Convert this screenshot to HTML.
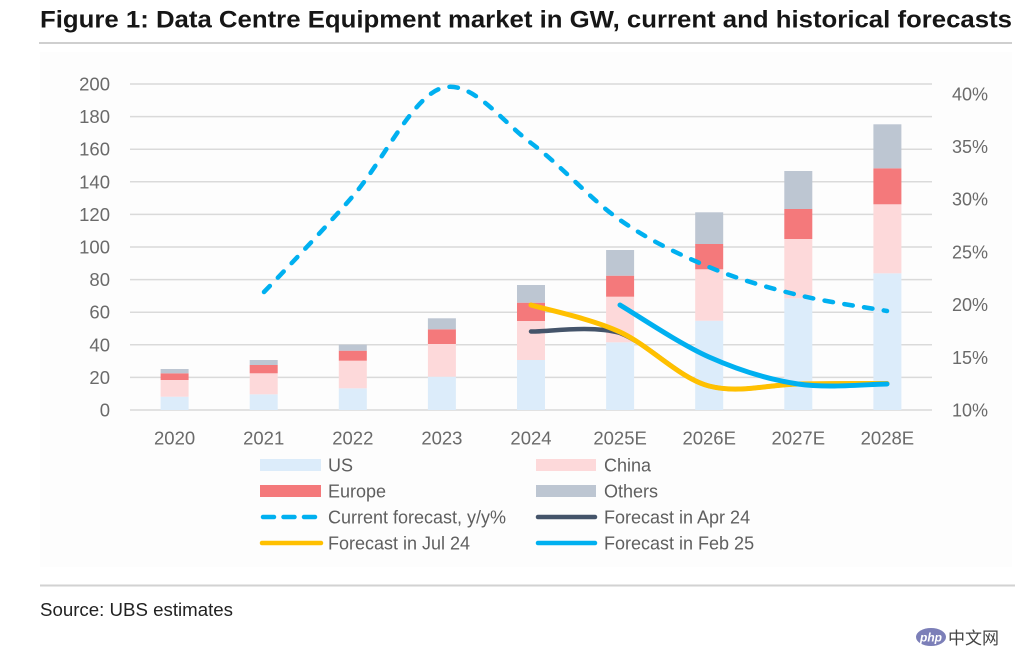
<!DOCTYPE html>
<html>
<head>
<meta charset="utf-8">
<style>
  html, body { margin:0; padding:0; background:#fff; }
  body { width:1024px; height:648px; overflow:hidden; }
  svg text { font-family: "Liberation Sans", "Noto Sans CJK SC", sans-serif; }
</style>
</head>
<body>
<svg width="1024" height="648" viewBox="0 0 1024 648" xmlns="http://www.w3.org/2000/svg">
  <rect x="0" y="0" width="1024" height="648" fill="#ffffff"/>
  <!-- chart area faint bg -->
  <rect x="40" y="52" width="972" height="515" fill="#fdfdfd"/>

  <!-- title -->
  <text x="40" y="27.5" font-size="24" font-weight="bold" fill="#161616" textLength="972" lengthAdjust="spacingAndGlyphs">Figure 1: Data Centre Equipment market in GW, current and historical forecasts</text>
  <line x1="39" y1="43" x2="1012" y2="43" stroke="#cfcfcf" stroke-width="2"/>

  <!-- gridlines -->
  <g stroke="#dadada" stroke-width="1.5">
    <line x1="130" y1="84" x2="932" y2="84"/>
    <line x1="130" y1="116.6" x2="932" y2="116.6"/>
    <line x1="130" y1="149.2" x2="932" y2="149.2"/>
    <line x1="130" y1="181.8" x2="932" y2="181.8"/>
    <line x1="130" y1="214.4" x2="932" y2="214.4"/>
    <line x1="130" y1="247" x2="932" y2="247"/>
    <line x1="130" y1="279.6" x2="932" y2="279.6"/>
    <line x1="130" y1="312.2" x2="932" y2="312.2"/>
    <line x1="130" y1="344.8" x2="932" y2="344.8"/>
    <line x1="130" y1="377.4" x2="932" y2="377.4"/>
    <line x1="130" y1="410" x2="932" y2="410"/>
  </g>

  <!-- left axis labels -->
  <g font-size="18.5" fill="#6a6a6a" text-anchor="end">
    <text x="110" y="90.5">200</text>
    <text x="110" y="123.1">180</text>
    <text x="110" y="155.7">160</text>
    <text x="110" y="188.3">140</text>
    <text x="110" y="220.9">120</text>
    <text x="110" y="253.5">100</text>
    <text x="110" y="286.1">80</text>
    <text x="110" y="318.7">60</text>
    <text x="110" y="351.3">40</text>
    <text x="110" y="383.9">20</text>
    <text x="110" y="416.5">0</text>
  </g>

  <!-- right axis labels -->
  <g font-size="18" fill="#6a6a6a">
    <text x="952" y="100.3">40%</text>
    <text x="952" y="153">35%</text>
    <text x="952" y="205.7">30%</text>
    <text x="952" y="258.4">25%</text>
    <text x="952" y="311.1">20%</text>
    <text x="952" y="363.8">15%</text>
    <text x="952" y="416.5">10%</text>
  </g>

  <!-- category labels -->
  <g font-size="18.5" fill="#6a6a6a" text-anchor="middle">
    <text x="174.6" y="444.5">2020</text>
    <text x="263.7" y="444.5">2021</text>
    <text x="352.8" y="444.5">2022</text>
    <text x="441.9" y="444.5">2023</text>
    <text x="531" y="444.5">2024</text>
    <text x="620.1" y="444.5">2025E</text>
    <text x="709.2" y="444.5">2026E</text>
    <text x="798.3" y="444.5">2027E</text>
    <text x="887.4" y="444.5">2028E</text>
  </g>

  <!-- bars -->
  <g>
    <rect x="160.6" y="396.7" width="28" height="13.3" fill="#dcecfa"/>
    <rect x="160.6" y="380" width="28" height="16.7" fill="#fdd9da"/>
    <rect x="160.6" y="373.3" width="28" height="6.7" fill="#f4797b"/>
    <rect x="160.6" y="369" width="28" height="4.3" fill="#bdc6d2"/>

    <rect x="249.7" y="394.3" width="28" height="15.7" fill="#dcecfa"/>
    <rect x="249.7" y="373.3" width="28" height="21" fill="#fdd9da"/>
    <rect x="249.7" y="365" width="28" height="8.3" fill="#f4797b"/>
    <rect x="249.7" y="360" width="28" height="5" fill="#bdc6d2"/>

    <rect x="338.8" y="388.3" width="28" height="21.7" fill="#dcecfa"/>
    <rect x="338.8" y="360.7" width="28" height="27.6" fill="#fdd9da"/>
    <rect x="338.8" y="350.7" width="28" height="10" fill="#f4797b"/>
    <rect x="338.8" y="344.7" width="28" height="6" fill="#bdc6d2"/>

    <rect x="427.9" y="376.7" width="28" height="33.3" fill="#dcecfa"/>
    <rect x="427.9" y="344" width="28" height="32.7" fill="#fdd9da"/>
    <rect x="427.9" y="329.3" width="28" height="14.7" fill="#f4797b"/>
    <rect x="427.9" y="318.3" width="28" height="11" fill="#bdc6d2"/>

    <rect x="517" y="360" width="28" height="50" fill="#dcecfa"/>
    <rect x="517" y="321" width="28" height="39" fill="#fdd9da"/>
    <rect x="517" y="302.7" width="28" height="18.3" fill="#f4797b"/>
    <rect x="517" y="285" width="28" height="17.7" fill="#bdc6d2"/>

    <rect x="606.1" y="342.3" width="28" height="67.7" fill="#dcecfa"/>
    <rect x="606.1" y="296.7" width="28" height="45.6" fill="#fdd9da"/>
    <rect x="606.1" y="275.7" width="28" height="21" fill="#f4797b"/>
    <rect x="606.1" y="250" width="28" height="25.7" fill="#bdc6d2"/>

    <rect x="695.2" y="320.7" width="28" height="89.3" fill="#dcecfa"/>
    <rect x="695.2" y="269.3" width="28" height="51.4" fill="#fdd9da"/>
    <rect x="695.2" y="244" width="28" height="25.3" fill="#f4797b"/>
    <rect x="695.2" y="212.3" width="28" height="31.7" fill="#bdc6d2"/>

    <rect x="784.3" y="298.3" width="28" height="111.7" fill="#dcecfa"/>
    <rect x="784.3" y="239" width="28" height="59.3" fill="#fdd9da"/>
    <rect x="784.3" y="209" width="28" height="30" fill="#f4797b"/>
    <rect x="784.3" y="171" width="28" height="38" fill="#bdc6d2"/>

    <rect x="873.4" y="273.3" width="28" height="136.7" fill="#dcecfa"/>
    <rect x="873.4" y="204.3" width="28" height="69" fill="#fdd9da"/>
    <rect x="873.4" y="168.3" width="28" height="36" fill="#f4797b"/>
    <rect x="873.4" y="124.3" width="28" height="44" fill="#bdc6d2"/>
  </g>

  <!-- Current forecast dashed -->
  <path d="M264,292 C278.8,276.8 323.3,230.2 353,196 C382.7,161.8 412.3,96.8 442,88 C471.7,79.2 501.3,121 531,143 C560.7,165 590.3,199.3 620,220 C649.7,240.7 679.3,254.5 709,267 C738.7,279.5 768.3,287.7 798,295 C827.7,302.3 872.2,308.3 887,311"
        fill="none" stroke="#00b0f0" stroke-width="4.5" stroke-linecap="round" stroke-dasharray="8.5 11.5"/>

  <!-- Forecast Apr 24 -->
  <path d="M531,331.5 C545.8,332.1 590.3,324.7 620,333 C649.7,344.7 679.3,378.3 709,386 C738.7,393.7 768.3,384.6 798,384 C827.7,383.4 872.2,383.6 887,383.5"
        fill="none" stroke="#44546a" stroke-width="4.5" stroke-linecap="round"/>

  <!-- Forecast Jul 24 -->
  <path d="M531,305 C545.8,309.5 590.3,318.3 620,332 C649.7,345.7 679.3,378.3 709,386 C738.7,393.7 768.3,384.6 798,384 C827.7,383.4 872.2,383.6 887,383.5"
        fill="none" stroke="#ffc000" stroke-width="5" stroke-linecap="round"/>

  <!-- Forecast Feb 25 -->
  <path d="M620,305 C634.8,313.7 679.3,343.8 709,357 C738.7,370.2 768.3,379.5 798,384 C827.7,388.5 872.2,384 887,384"
        fill="none" stroke="#00b0f0" stroke-width="5" stroke-linecap="round"/>

  <!-- legend -->
  <g font-size="18" fill="#5f5f5f">
    <rect x="260" y="459" width="61" height="12" fill="#dcecfa"/>
    <text x="328" y="471.5">US</text>
    <rect x="536" y="459" width="60" height="12" fill="#fdd9da"/>
    <text x="604" y="471.5">China</text>

    <rect x="260" y="485" width="61" height="12" fill="#f4797b"/>
    <text x="328" y="497.5">Europe</text>
    <rect x="536" y="485" width="60" height="12" fill="#bdc6d2"/>
    <text x="604" y="497.5">Others</text>

    <line x1="263" y1="517" x2="318" y2="517" stroke="#00b0f0" stroke-width="4.5" stroke-linecap="round" stroke-dasharray="11 9.5"/>
    <text x="328" y="523.5">Current forecast, y/y%</text>
    <line x1="538" y1="517" x2="595" y2="517" stroke="#44546a" stroke-width="4.5" stroke-linecap="round"/>
    <text x="604" y="523.5">Forecast in Apr 24</text>

    <line x1="262" y1="543" x2="321" y2="543" stroke="#ffc000" stroke-width="4.5" stroke-linecap="round"/>
    <text x="328" y="549.5">Forecast in Jul 24</text>
    <line x1="538" y1="543" x2="595" y2="543" stroke="#00b0f0" stroke-width="4.5" stroke-linecap="round"/>
    <text x="604" y="549.5">Forecast in Feb 25</text>
  </g>

  <!-- bottom rule and source -->
  <line x1="40" y1="585.5" x2="1015" y2="585.5" stroke="#d2d2d2" stroke-width="2"/>
  <text x="40" y="616" font-size="18" fill="#222" textLength="193" lengthAdjust="spacingAndGlyphs">Source: UBS estimates</text>

  <!-- watermark -->
  <ellipse cx="931" cy="637" rx="15" ry="9" fill="#7c7fb8"/>
  <text x="931" y="641.5" font-size="12" font-style="italic" font-weight="bold" fill="#fff" text-anchor="middle">php</text>
  <text x="948" y="644" font-size="17" fill="#444">中文网</text>
</svg>
</body>
</html>
